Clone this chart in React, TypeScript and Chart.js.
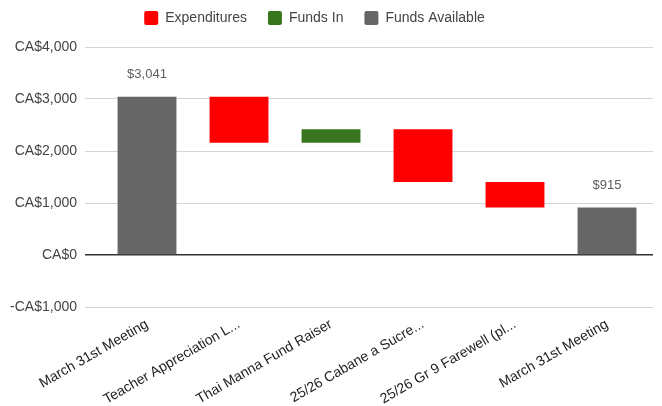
import React, { useEffect, useRef } from "react";
import { Chart, registerables } from "chart.js";

Chart.register(...registerables);

const categories = [
  "March 31st Meeting",
  "Teacher Appreciation L...",
  "Thai Manna Fund Raiser",
  "25/26 Cabane a Sucre...",
  "25/26 Gr 9 Farewell (pl...",
  "March 31st Meeting",
];
// Balance shown as a full bar (Funds Available)
const availableValues: (number | null)[] = [3041, null, null, null, null, 915];
// Changes between balances (negative = expenditure, positive = funds in)
const changeValues: (number | null)[] = [null, -881, 257, -1013, -489, null];
const yTicks = [-1000, 0, 1000, 2000, 3000, 4000];

const RED = "#ff0000";
const GREEN = "#38761d";
const GRAY = "#666666";

function buildSeries() {
  const exp: any[] = [];
  const inc: any[] = [];
  const avail: any[] = [];
  let total = 0;
  categories.forEach((_, i) => {
    const a = availableValues[i];
    const c = changeValues[i];
    if (a !== null) {
      total = a;
      avail.push(a);
      exp.push(null);
      inc.push(null);
    } else if (c !== null) {
      const prev = total;
      total = prev + c;
      const range = [Math.min(prev, total), Math.max(prev, total)];
      avail.push(null);
      if (c < 0) {
        exp.push(range);
        inc.push(null);
      } else {
        inc.push(range);
        exp.push(null);
      }
    }
  });
  return { exp, inc, avail };
}

function fmtMoney(v: number) {
  return Math.abs(v).toLocaleString("en-US");
}

const FONT = "'Liberation Sans', Arial, sans-serif";

const labelPlugin = {
  id: "availLabels",
  afterDatasetsDraw(chart: any) {
    const ctx = chart.ctx;
    const meta = chart.getDatasetMeta(2);
    ctx.save();
    ctx.font = "13px " + FONT;
    ctx.fillStyle = "#5f5f5f";
    ctx.textAlign = "center";
    ctx.textBaseline = "middle";
    meta.data.forEach((el: any, i: number) => {
      const v = availableValues[i];
      if (v === null || !el) return;
      ctx.fillText("$" + fmtMoney(v), el.x, el.y - 22);
    });
    ctx.restore();
  },
};

const legendHeightPlugin = {
  id: "legendHeight",
  beforeInit(chart: any) {
    const legend = chart.legend;
    if (!legend) return;
    const origFit = legend.fit;
    legend.fit = function () {
      origFit.call(this);
      this.height = 57;
    };
  },
  afterLayout(chart: any) {
    const legend = chart.legend;
    if (!legend) return;
    legend.left -= 12;
    legend.right -= 12;
  },
};

export default function App() {
  const ref = useRef<HTMLCanvasElement | null>(null);
  useEffect(() => {
    if (!ref.current) return;
    const { exp, inc, avail } = buildSeries();
    const chart = new Chart(ref.current, {
      type: "bar",
      data: {
        labels: categories,
        datasets: [
          { label: "Expenditures", data: exp, backgroundColor: RED, borderWidth: 0 },
          { label: "Funds In", data: inc, backgroundColor: GREEN, borderWidth: 0 },
          { label: "Funds Available", data: avail, backgroundColor: GRAY, borderWidth: 0 },
        ],
      },
      options: {
        animation: false,
        responsive: false,
        maintainAspectRatio: false,
        datasets: {
          bar: { skipNull: true, barPercentage: 1, categoryPercentage: 0.64 } as any,
        },
        layout: { padding: { left: 0, right: 9, top: -10, bottom: 0 } },
        plugins: {
          tooltip: { enabled: false },
          legend: {
            position: "top",
            labels: {
              boxWidth: 14,
              boxHeight: 14,
              padding: 21,
              color: "#444444",
              font: { family: FONT, size: 14 },
              useBorderRadius: true,
              borderRadius: 2,
            } as any,
          },
        },
        scales: {
          x: {
            grid: { display: false, drawTicks: false },
            border: { display: false },
            afterFit: (axis: any) => {
              axis.height = 99;
            },
            ticks: {
              color: "#222222",
              font: { family: FONT, size: 14 },
              minRotation: 30,
              maxRotation: 30,
              autoSkip: false,
              padding: 9,
            },
          },
          y: {
            min: -1000,
            max: 4000,
            afterBuildTicks: (axis: any) => {
              axis.ticks = yTicks.map((v) => ({ value: v }));
            },
            afterFit: (axis: any) => {
              axis.width = 101;
            },
            grid: {
              color: (ctx: any) => (ctx.tick && ctx.tick.value === 0 ? "#333333" : "#d4d4d4"),
              lineWidth: (ctx: any) => (ctx.tick && ctx.tick.value === 0 ? 1.5 : 1),
              tickLength: 16,
            },
            border: { display: false },
            ticks: {
              color: "#444444",
              font: { family: FONT, size: 14 },
              padding: 8,
              callback: (v: any) => (v < 0 ? "-CA$" : "CA$") + fmtMoney(Number(v)),
            },
          },
        },
      },
      plugins: [labelPlugin, legendHeightPlugin],
    });
    return () => chart.destroy();
  }, []);
  return (
    <div style={{ position: "fixed", left: 0, top: 0, width: 662, height: 406, background: "#fff" }}>
      <canvas ref={ref} width={662} height={406} style={{ width: 662, height: 406 }} />
    </div>
  );
}
